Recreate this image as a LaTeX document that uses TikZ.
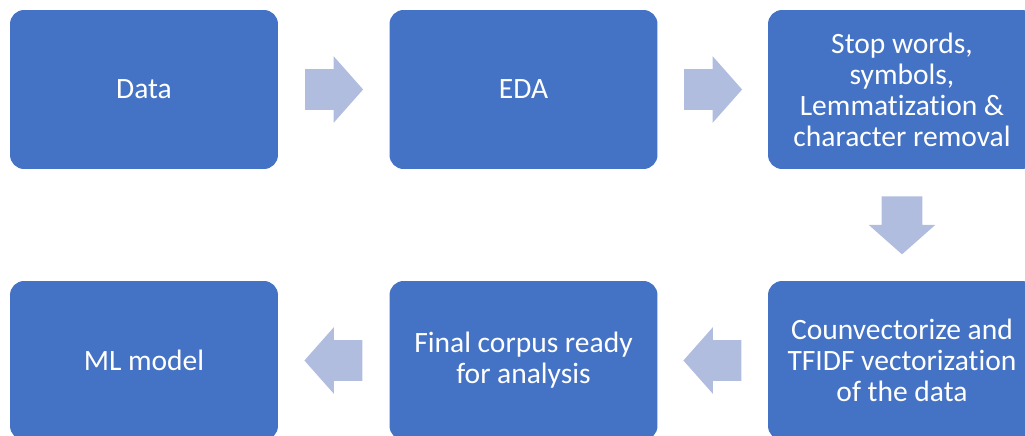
\documentclass[tikz,border=0pt]{standalone}
\usepackage{fontspec}
\setmainfont{Carlito}[Ligatures=NoCommon]
\usetikzlibrary{shapes.arrows,calc}
\definecolor{boxblue}{HTML}{4472C4}
\definecolor{arrowblue}{HTML}{B0BDDF}

\begin{document}
\begin{tikzpicture}[x=0.02cm,y=-0.02cm]
 \tikzstyle{stage} = [rectangle, rounded corners=0.28cm, fill=boxblue, text=white,
   minimum width=5.36cm, minimum height=3.18cm, align=center,
   font=\fontsize{16.8}{17.6}\selectfont]
 \tikzstyle{flow} = [single arrow, fill=arrowblue, anchor=tail,
   inner xsep=0pt, inner ysep=0.4cm, minimum height=1.16cm,
   single arrow head extend=0.26cm, single arrow tip angle=97]
 \tikzstyle{flowdown} = [flow, shape border rotate=270, inner xsep=0.4cm, inner ysep=0pt]
 \tikzstyle{flowback} = [flow, shape border rotate=180]

 \useasboundingbox (0,0) rectangle (1025,436);
 \clip (0,0) rectangle (1025,436);

% Top row, left to right
 \node[stage] (data) at (144,89.5) {Data};
 \node[stage] (eda) at (523.5,89.5) {EDA};
 \node[stage] (clean) at (902,89.5) {Stop words,\\ symbols,\\ Lemmatization \&\\ character removal};

% Bottom row, right to left
 \node[stage] (vect) at (902,360.5) {Counvectorize and\\ TFIDF vectorization\\ of the data};
 \node[stage] (corpus) at (523.5,360.5) {Final corpus ready\\ for analysis};
 \node[stage] (model) at (144,360.5) {ML model};

% Block arrows between the stages (tail half a length before the gap middle)
 \node[flow] (a1) at ($(data.east)!0.5!(eda.west)+(-29,0)$) {};
 \node[flow] (a2) at ($(eda.east)!0.5!(clean.west)+(-29,0)$) {};
 \node[flowdown] (a3) at ($(clean.south)!0.5!(vect.north)+(0,-29)$) {};
 \node[flowback] (a4) at ($(vect.west)!0.5!(corpus.east)+(29,0)$) {};
 \node[flowback] (a5) at ($(corpus.west)!0.5!(model.east)+(29,0)$) {};
\end{tikzpicture}
\end{document}
